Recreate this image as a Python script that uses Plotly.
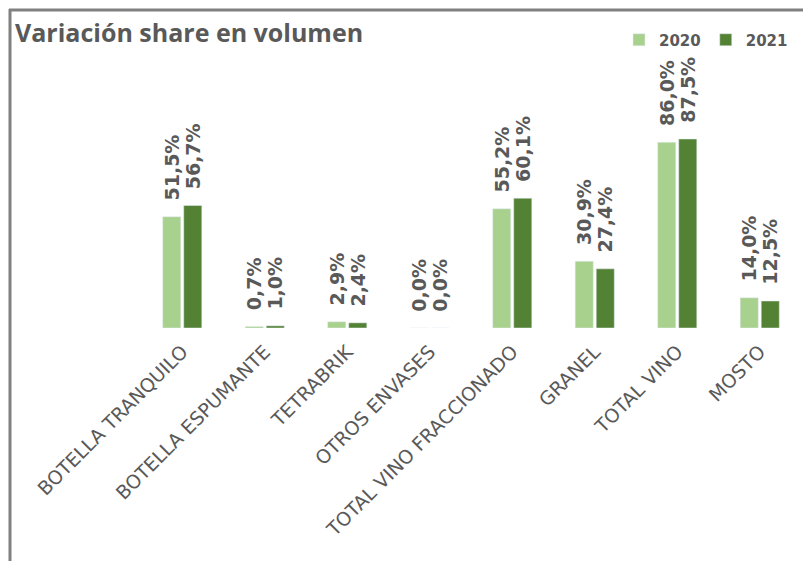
import plotly.graph_objects as go

categories = ["BOTELLA TRANQUILO", "BOTELLA ESPUMANTE", "TETRABRIK", "OTROS ENVASES",
              "TOTAL VINO FRACCIONADO", "GRANEL", "TOTAL VINO", "MOSTO"]
vals_2020 = [51.5, 0.7, 2.9, 0.0, 55.2, 30.9, 86.0, 14.0]
vals_2021 = [56.7, 1.0, 2.4, 0.0, 60.1, 27.4, 87.5, 12.5]

def fmt(v):
    # leading non-breaking spaces keep the rotated label clear of the bar top
    return "\u00a0\u00a0" + f"{v:.1f}%".replace(".", ",")

# page body has an 8px margin: work in figure coordinates = screen - 8
OFF = 8
W, H = 811 - OFF, 561 - OFF
ML, MR, MT, MB = 141 - OFF, 10, 40 - OFF, 561 - 328
PW, PH = W - ML - MR, H - MT - MB

GRAY = "#595959"
LABEL_FONT = "DejaVu Sans"

def px(x):  # screen x -> paper
    return (x - OFF - ML) / PW

def py(y):  # screen y -> paper
    return (H - MB - (y - OFF)) / PH

fig = go.Figure()
for name, vals, col in [("2020", vals_2020, "#a9d18e"), ("2021", vals_2021, "#548235")]:
    fig.add_trace(go.Bar(x=categories, y=vals, name=name, marker_color=col,
                         text=[fmt(v) for v in vals], textposition="outside", textangle=-90,
                         constraintext="none", cliponaxis=False,
                         textfont=dict(family=LABEL_FONT, size=19, color=GRAY, weight="bold")))

fig.update_layout(
    width=W, height=H,
    margin=dict(l=ML, r=MR, t=MT, b=MB),
    plot_bgcolor="white", paper_bgcolor="white",
    barmode="group", bargap=0.49, bargroupgap=0.14,
    title=dict(text="<b>Variación share en volumen</b>", x=(15 - OFF) / W,
               xanchor="left", y=1 - (33 - OFF) / H, yanchor="middle",
               font=dict(family="Open Sans", size=25, color=GRAY)),
    legend=dict(orientation="h", x=px(619), xanchor="left", y=py(40), yanchor="middle",
                font=dict(family=LABEL_FONT, size=15, color=GRAY, weight="bold"),
                bgcolor="rgba(0,0,0,0)", traceorder="normal"),
    xaxis=dict(tickangle=-45, showline=False, ticks="", ticklabelstandoff=8,
               tickfont=dict(family=LABEL_FONT, size=19, color=GRAY)),
    yaxis=dict(range=[0, PH / (189 / 87.5)], visible=False),
    shapes=[
        dict(type="line", xref="paper", yref="paper", x0=px(9), x1=px(811), y0=py(10), y1=py(10),
             line=dict(color="#808080", width=3)),
        dict(type="line", xref="paper", yref="paper", x0=px(10), x1=px(10), y0=py(9), y1=py(561),
             line=dict(color="#808080", width=3)),
    ],
)

fig.write_html("out.html")
